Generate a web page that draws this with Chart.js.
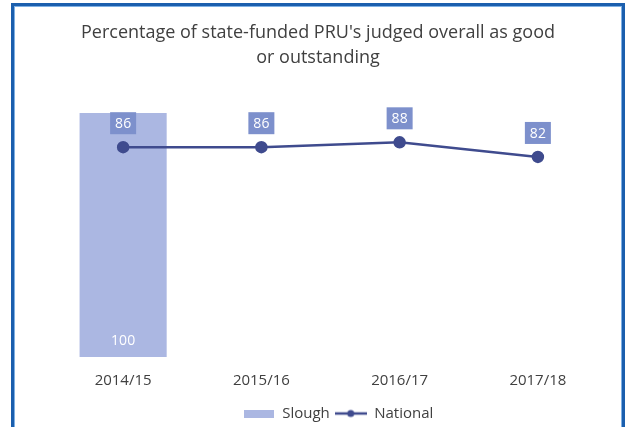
<!DOCTYPE html>
<html>
<head>
<meta charset="utf-8">
<script src="https://cdn.jsdelivr.net/npm/chart.js@4/dist/chart.umd.min.js"></script>
<style>
  html, body { margin: 0; padding: 0; background: #fff; overflow: hidden; }
  #wrap { position: absolute; left: 0; top: 0; width: 632px; height: 427px; }
  #frame {
    position: absolute; left: 11px; top: 3px; width: 608px; height: 460px;
    border: 3px solid #1b5fae; border-bottom: none;
    box-shadow: inset 1px 1px 0 #7fb0e4, inset -1px 0 0 #7fb0e4;
    pointer-events: none;
  }
</style>
</head>
<body>
<div id="wrap"><canvas id="chart" width="632" height="427"></canvas></div>
<div id="frame"></div>
<script>
const categories = ['2014/15', '2015/16', '2016/17', '2017/18'];
const sloughValues = [100, null, null, null];
const nationalValues = [86, 86, 88, 82];

const barColor = '#abb7e2';
const lineColor = '#3f4b8e';
const boxColor = '#7d90cc';
const textColor = '#404040';
const fontFamily = '"Open Sans", Lato, sans-serif';

// little legend swatches
function swatchRect() {
  const c = document.createElement('canvas');
  c.width = 30; c.height = 8;
  const g = c.getContext('2d');
  g.fillStyle = barColor;
  g.fillRect(0, 0, 30, 8);
  return c;
}
function swatchLine() {
  const c = document.createElement('canvas');
  c.width = 32; c.height = 10;
  const g = c.getContext('2d');
  g.strokeStyle = lineColor;
  g.lineWidth = 2.5;
  g.beginPath(); g.moveTo(0, 5); g.lineTo(32, 5); g.stroke();
  g.fillStyle = lineColor;
  g.beginPath(); g.arc(16, 5, 3.5, 0, Math.PI * 2); g.fill();
  return c;
}

const valueLabels = {
  id: 'valueLabels',
  afterDatasetsDraw(chart) {
    const ctx = chart.ctx;
    ctx.save();
    ctx.textAlign = 'center';
    ctx.textBaseline = 'middle';
    ctx.font = '14px ' + fontFamily;

    // bar value inside the bottom of the bar
    const barMeta = chart.getDatasetMeta(0);
    barMeta.data.forEach((el, i) => {
      const v = sloughValues[i];
      if (v == null) return;
      ctx.fillStyle = '#ffffff';
      ctx.fillText(String(v), el.x, el.base - 16);
    });

    // boxed labels above the line points
    const lineMeta = chart.getDatasetMeta(1);
    lineMeta.data.forEach((el, i) => {
      const v = nationalValues[i];
      const cy = el.y - 24;
      ctx.fillStyle = boxColor;
      ctx.fillRect(el.x - 13, cy - 11, 26, 22);
      ctx.fillStyle = '#ffffff';
      ctx.fillText(String(v), el.x, cy + 1);
    });
    ctx.restore();
  }
};

// legend sits a bit right of centre in the original
const legendShift = {
  id: 'legendShift',
  afterLayout(chart) {
    chart.legend.left += 20;
    chart.legend.right += 20;
  }
};

const config = {
  data: {
    labels: categories,
    datasets: [
      {
        type: 'bar',
        label: 'Slough',
        data: sloughValues,
        backgroundColor: barColor,
        barPercentage: 0.63,
        categoryPercentage: 1,
        order: 2
      },
      {
        type: 'line',
        label: 'National',
        data: nationalValues,
        borderColor: lineColor,
        backgroundColor: lineColor,
        borderWidth: 2.5,
        pointRadius: 5,
        pointHoverRadius: 5,
        tension: 0,
        order: 1
      }
    ]
  },
  options: {
    responsive: false,
    animation: false,
    layout: { padding: { left: 29, right: 25, top: 0, bottom: -4 } },
    scales: {
      x: {
        grid: { display: false },
        border: { display: false },
        ticks: { color: textColor, font: { family: fontFamily, size: 15 }, padding: 7 },
        afterFit(scale) { scale.height += 4; }
      },
      y: {
        display: true, min: 0, max: 100,
        grid: { display: false },
        border: { display: false },
        ticks: { display: false },
        afterFit(scale) { scale.width = 25; }
      }
    },
    plugins: {
      title: {
        display: true,
        text: ["Percentage of state-funded PRU's judged overall as good", 'or outstanding'],
        color: textColor,
        font: { family: fontFamily, size: 18, weight: 'normal', lineHeight: 1.39 },
        padding: { top: 20, bottom: 43 }
      },
      legend: {
        position: 'bottom',
        labels: {
          color: textColor,
          font: { family: fontFamily, size: 15 },
          usePointStyle: true,
          pointStyleWidth: 32,
          boxHeight: 10,
          padding: 5,
          generateLabels() {
            return [
              { text: 'Slough', pointStyle: swatchRect(), fillStyle: barColor, strokeStyle: barColor, lineWidth: 0, datasetIndex: 0, fontColor: textColor },
              { text: 'National', pointStyle: swatchLine(), fillStyle: lineColor, strokeStyle: lineColor, lineWidth: 0, datasetIndex: 1, fontColor: textColor }
            ];
          }
        }
      },
      tooltip: { enabled: false }
    }
  },
  plugins: [valueLabels, legendShift]
};

var chart = new Chart(document.getElementById('chart'), config);
</script>
</body>
</html>
